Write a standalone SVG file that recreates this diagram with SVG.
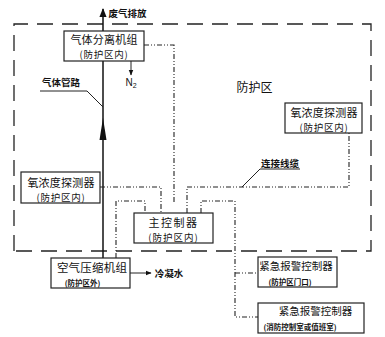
<svg xmlns="http://www.w3.org/2000/svg" width="385" height="337" viewBox="0 0 385 337">
<style>
text{font-family:"Noto Sans CJK SC","Noto Sans",sans-serif;fill:#111;text-anchor:middle}
.box{fill:#fff;stroke:#222;stroke-width:1.2}
.t1{font-size:11px}
.t2{font-size:9.5px}
.sm{font-size:7.5px;font-weight:bold}
.lab{font-size:9.5px;font-weight:bold}
.dd{fill:none;stroke:#222;stroke-width:1.1;stroke-dasharray:5 2 1 2 1 2}
.sol{fill:none;stroke:#222;stroke-width:1}
.pipe{fill:none;stroke:#111;stroke-width:1.5}
.zone{fill:none;stroke:#222;stroke-width:1.3;stroke-dasharray:16 9}
</style>
<defs>
<marker id="ah" viewBox="0 0 10 10" refX="9" refY="5" markerWidth="6" markerHeight="6" orient="auto">
<path d="M0,1 L10,5 L0,9 Z" fill="#111"/>
</marker>
</defs>
<rect width="385" height="337" fill="#fff"/>
<g id="zone">
<path class="zone" d="M14,251 L14,24 L371,24 L371,251 Z"/>
<text x="254.5" y="92" style="font-size:12px">防护区</text>
</g>
<g id="connectors">
<line class="pipe" x1="103" y1="258" x2="103" y2="61"/>
<line class="pipe" x1="103" y1="31" x2="103" y2="9" marker-end="url(#ah)"/>
<path d="M103,118 L106.5,140 L99.5,140 Z" fill="#111"/>
<line class="sol" x1="131" y1="61" x2="131" y2="75" marker-end="url(#ah)"/>
<polyline class="sol" points="40,91 87,91 103,107"/>
<polyline class="dd" points="144,45 174,45 174,204"/>
<polyline class="dd" points="100,187 161,187 161,213"/>
<polyline class="dd" points="116,258 116,201 145,201 145,213"/>
<polyline class="dd" points="187,213 187,187 349,187 349,133"/>
<polyline class="dd" points="201,213 201,201 235,201 235,317 258,317"/>
<polyline class="dd" points="235,273 258,273"/>
<polyline class="sol" points="242,187 260,169 300,169"/>
<line class="sol" x1="130" y1="273" x2="151" y2="273" marker-end="url(#ah)"/>
<text class="lab" x="127.5" y="16.5">废气排放</text>
<text class="lab" x="61" y="86">气体管路</text>
<text class="lab" x="280" y="166.5">连接线缆</text>
<text class="lab" x="169" y="276.5">冷凝水</text>
<text x="131" y="86" style="font-size:10px;font-family:'Liberation Sans',sans-serif">N<tspan style="font-size:7px" dy="2">2</tspan></text>
</g>
<g id="gas-separator">
<rect class="box" x="64" y="31" width="80" height="30"/>
<text class="t1" x="104" y="43.5" letter-spacing="0.2">气体分离机组</text>
<text class="t2" x="104" y="57.5" letter-spacing="0.8">(防护区内)</text>
</g>
<g id="o2-detector-left">
<rect class="box" x="21" y="172" width="79" height="31"/>
<text class="t1" x="61" y="186.5" letter-spacing="0.2">氧浓度探测器</text>
<text class="t2" x="61" y="200.5" letter-spacing="0.8">(防护区内)</text>
</g>
<g id="o2-detector-right">
<rect class="box" x="285" y="103" width="77" height="30"/>
<text class="t1" x="324" y="117" letter-spacing="0.2">氧浓度探测器</text>
<text class="t2" x="324" y="130.5" letter-spacing="0.8">(防护区内)</text>
</g>
<g id="main-controller">
<rect class="box" x="134" y="213" width="79" height="30"/>
<text class="t1" x="173.5" y="227" letter-spacing="1.5">主控制器</text>
<text class="t2" x="173.5" y="240.5" letter-spacing="1">(防护区内)</text>
</g>
<g id="air-compressor">
<rect class="box" x="51" y="258" width="79" height="30"/>
<text x="92" y="271.5" style="font-size:11.5px" letter-spacing="0.2">空气压缩机组</text>
<text class="sm" x="82.5" y="285.5">(防护区外)</text>
</g>
<g id="emergency-alarm-door">
<rect class="box" x="258" y="257" width="79" height="30"/>
<text x="296" y="270" style="font-size:10.5px">紧急报警控制器</text>
<text class="sm" x="290" y="284.5">(防护区门口)</text>
</g>
<g id="emergency-alarm-room">
<rect class="box" x="258" y="303" width="106" height="30"/>
<text x="315.5" y="315" style="font-size:10.5px">紧急报警控制器</text>
<text class="sm" x="300" y="330">(消防控制室或值班室)</text>
</g>
</svg>
